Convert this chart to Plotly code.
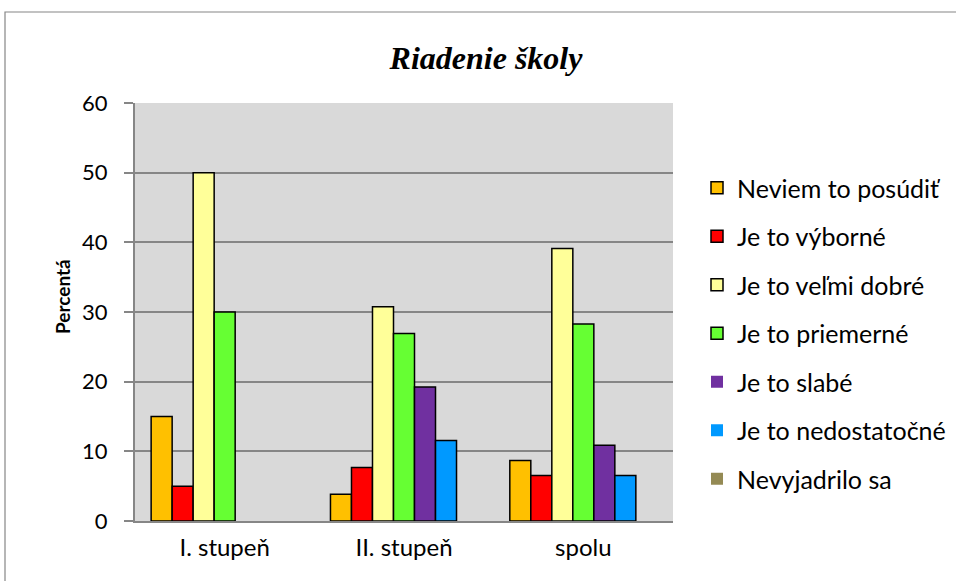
import plotly.graph_objects as go

categories = ["I. stupeň", "II. stupeň", "spolu"]
series_names = ["Neviem to posúdiť", "Je to výborné", "Je to veľmi dobré", "Je to priemerné",
                "Je to slabé", "Je to nedostatočné", "Nevyjadrilo sa"]
neviem = [15.0, 3.85, 8.70]
vyborne = [5.0, 7.69, 6.52]
velmi_dobre = [50.0, 30.77, 39.13]
priemerne = [30.0, 26.92, 28.26]
slabe = [0.0, 19.23, 10.87]
nedostatocne = [0.0, 11.54, 6.52]
nevyjadrilo = [0.0, 0.0, 0.0]
series_values = [neviem, vyborne, velmi_dobre, priemerne, slabe, nedostatocne, nevyjadrilo]
colors = ["#FFC000", "#FF0000", "#FFFF99", "#66FF33", "#7030A0", "#0099FF", "#948A54"]
y_ticks = [0, 10, 20, 30, 40, 50, 60]

W, H = 956, 581
L, R, T, B = 135, 283, 103, 60
pw, ph = W - L - R, H - T - B


def px2paper_x(px):
    return (px - L) / pw


def px2paper_y(py):
    return (H - B - py) / ph


fig = go.Figure()
for i, (name, vals) in enumerate(zip(series_names, series_values)):
    fig.add_trace(go.Bar(
        x=categories, y=vals, name=name, legendgroup=f"g{i}",
        marker=dict(color=colors[i],
                    line=dict(color="#000000", width=[1.5 if v > 0 else 0 for v in vals])),
    ))

fig.add_shape(type="rect", xref="paper", yref="paper",
              x0=px2paper_x(5), x1=px2paper_x(962), y0=px2paper_y(592), y1=px2paper_y(12),
              line=dict(color="#868686", width=1.2), fillcolor="rgba(0,0,0,0)", layer="below")

fig.add_annotation(text="<b>Percentá</b>", xref="paper", yref="paper",
                   x=px2paper_x(62), y=px2paper_y(297), xanchor="center", yanchor="middle",
                   textangle=-90, showarrow=False,
                   font=dict(family="Lato", size=19, color="#000000"))

fig.update_layout(
    width=W, height=H,
    margin=dict(l=L, r=R, t=T, b=B, autoexpand=False),
    paper_bgcolor="white", plot_bgcolor="#D9D9D9",
    barmode="group", bargap=0.18, bargroupgap=0,
    font=dict(family="Lato", size=20, color="#000000"),
    title=dict(text="<b><i>Riadenie školy</i></b>", x=486 / W, xanchor="center",
               y=1 - 58 / H, yref="container", yanchor="middle",
               font=dict(family="Liberation Serif", size=32, color="#000000")),
    legend=dict(x=px2paper_x(697), xanchor="left", y=px2paper_y(165), yanchor="top",
                traceorder="grouped", tracegroupgap=13,
                font=dict(family="Lato", size=25, color="#000000"),
                itemwidth=30, bgcolor="rgba(0,0,0,0)"),
    showlegend=True,
)
fig.update_xaxes(showline=True, linecolor="#868686", linewidth=2, ticks="",
                 tickfont=dict(family="Lato", size=24), ticklabelstandoff=4,
                 showgrid=False, fixedrange=True)
fig.update_yaxes(range=[0, 60], tickvals=y_ticks, showline=True, linecolor="#868686", linewidth=2,
                 ticks="outside", ticklen=9, tickcolor="#868686", tickwidth=2,
                 showgrid=True, gridcolor="#868686", gridwidth=2, zeroline=False,
                 tickfont=dict(family="Lato", size=22), ticklabelstandoff=12,
                 fixedrange=True)

fig.write_html("out.html", config={"displayModeBar": False},
               post_script="document.body.style.margin='0';")
